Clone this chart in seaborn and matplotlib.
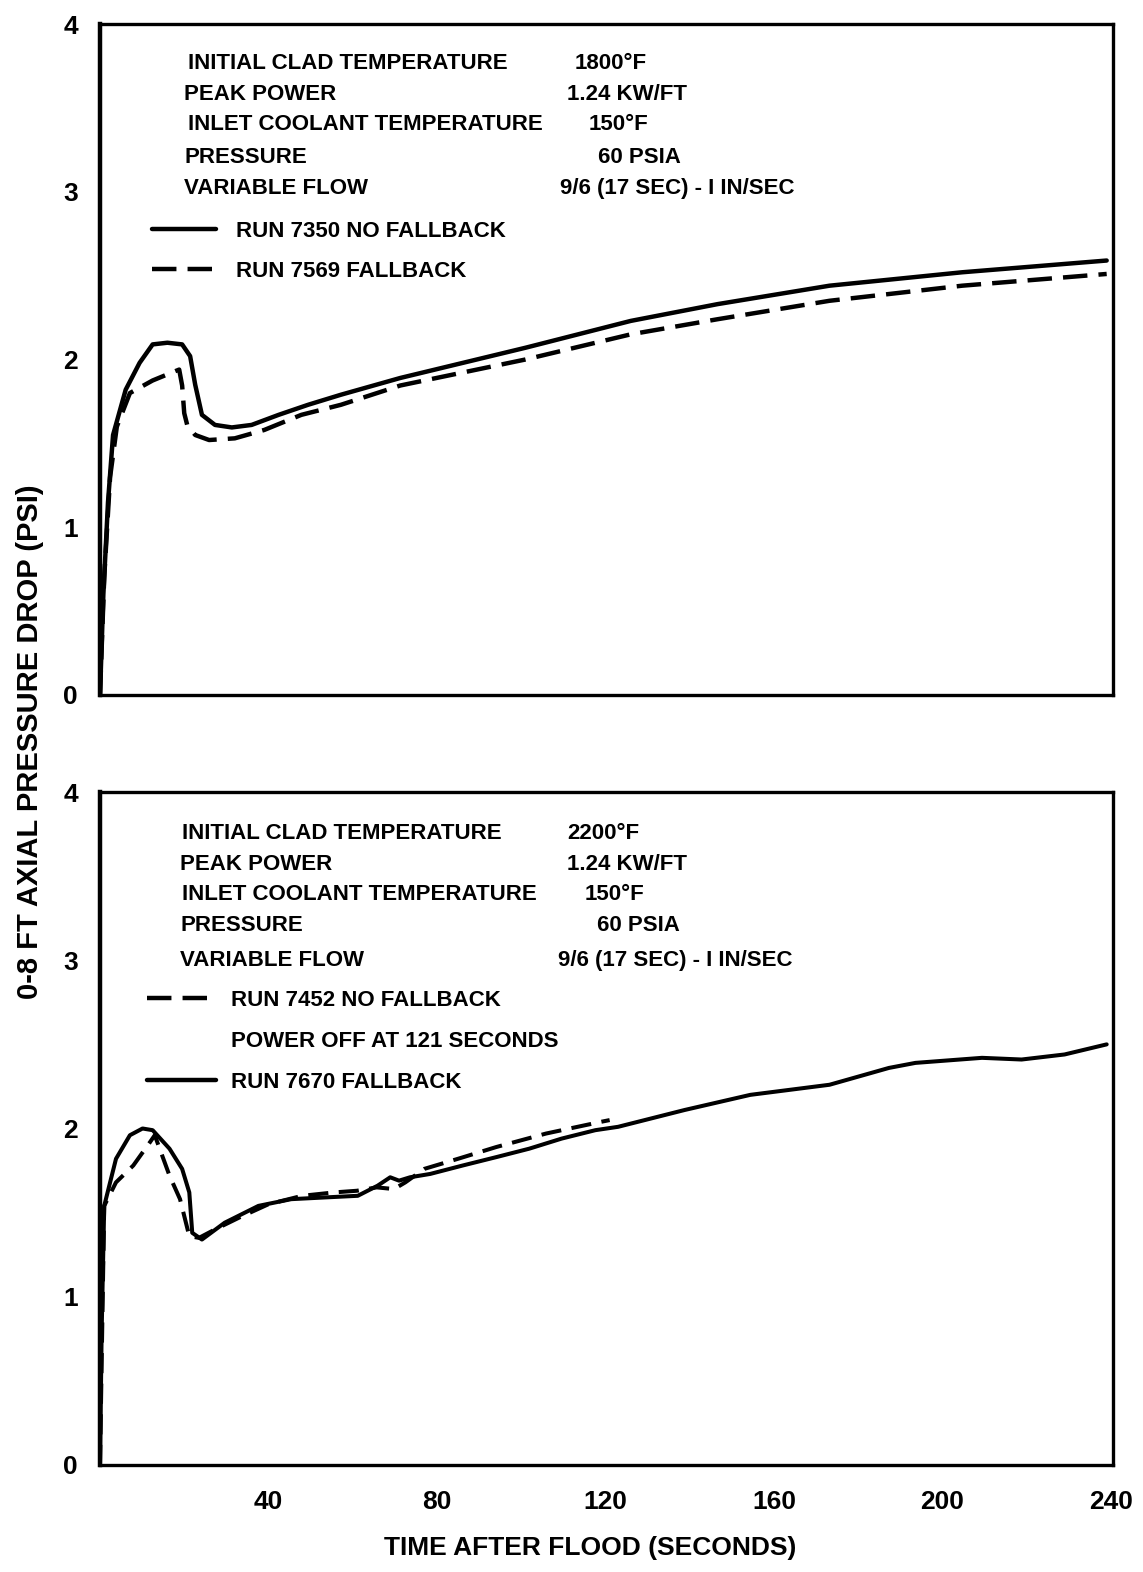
"""
Axial pressure drop (0-8 ft) after flood: two test sets, fallback vs no fallback.
"""
import matplotlib
matplotlib.use("Agg")
import matplotlib.pyplot as plt
from matplotlib.lines import Line2D
import seaborn as sns

# ---- data (time in s, pressure drop in psi) ----
top_solid_t = [0, 0.8, 1.9, 3.1, 6.1, 9.4, 12.5, 16, 19.5, 21.4, 22.6, 24.2, 27.3, 31.3, 36,
               42.4, 49.4, 57.2, 71.3, 101, 126, 146.6, 173.2, 204.7, 239]
top_solid_p = [0, 0.6, 1.15, 1.55, 1.82, 1.98, 2.09, 2.10, 2.09, 2.02, 1.85, 1.67, 1.61, 1.595, 1.61,
               1.67, 1.73, 1.79, 1.89, 2.07, 2.23, 2.33, 2.44, 2.52, 2.59]
top_dash_t = [0, 1.0, 2.4, 4.0, 7.1, 12.5, 18.8, 19.5, 20.0, 20.7, 22.6, 25.9, 32, 39, 47.8,
              57.2, 71.3, 101, 126, 146.6, 173.2, 204.7, 239]
top_dash_p = [0, 0.7, 1.3, 1.6, 1.80, 1.875, 1.94, 1.845, 1.68, 1.61, 1.55, 1.52, 1.53, 1.58, 1.67,
              1.73, 1.845, 2.0, 2.15, 2.24, 2.35, 2.44, 2.51]

bot_solid_t = [0, 0.4, 1.0, 3.8, 7.1, 10.1, 12.5, 16.5, 19.5, 21.2, 21.9, 24.2, 29.6, 37.6, 45.4,
               53.2, 61.2, 65.9, 68.9, 71, 73.6, 78.4, 86.1, 94.1, 101.9, 109.6, 117.6, 123,
               138.8, 154.4, 173.2, 187.3, 193.6, 209.4, 218.8, 229, 239]
bot_solid_p = [0, 0.8, 1.54, 1.82, 1.96, 2.0, 1.99, 1.88, 1.76, 1.62, 1.38, 1.34, 1.44, 1.54, 1.58,
               1.59, 1.60, 1.66, 1.71, 1.69, 1.71, 1.73, 1.78, 1.83, 1.88, 1.94, 1.99, 2.01,
               2.11, 2.20, 2.26, 2.36, 2.39, 2.42, 2.41, 2.44, 2.50]
bot_dash_t = [0, 1.0, 3.8, 7.9, 11.9, 13.0, 16.5, 19.0, 21.2, 23.5, 27.3, 33, 40, 48, 55.5, 61,
              65.7, 69.8, 72.5, 77, 85, 94.1, 105.9, 119, 121]
bot_dash_p = [0, 1.54, 1.68, 1.78, 1.92, 1.96, 1.72, 1.58, 1.36, 1.35, 1.40, 1.47, 1.55, 1.60, 1.62,
              1.63, 1.65, 1.64, 1.68, 1.76, 1.82, 1.89, 1.97, 2.04, 2.05]

cond_names = ["INITIAL CLAD TEMPERATURE", "PEAK POWER", "INLET COOLANT TEMPERATURE",
              "PRESSURE", "VARIABLE FLOW"]
top_cond_vals = ["1800°F", "1.24 KW/FT", "150°F", "60 PSIA", "9/6 (17 SEC) - I IN/SEC"]
bot_cond_vals = ["2200°F", "1.24 KW/FT", "150°F", "60 PSIA", "9/6 (17 SEC) - I IN/SEC"]

x_ticks = [40, 80, 120, 160, 200, 240]
y_ticks = [0, 1, 2, 3, 4]

sns.set_theme(style="white", rc={"text.color": "black", "axes.labelcolor": "black",
                                 "xtick.color": "black", "ytick.color": "black",
                                 "axes.edgecolor": "black"})
plt.rcParams["font.family"] = ["Liberation Sans", "DejaVu Sans"]
plt.rcParams["font.weight"] = "bold"

FS = 16
TFS = 19
LW = 3.2
DASH = (0, (5.5, 2.5))

fig = plt.figure(figsize=(11.43, 15.72), dpi=100)
W, H = 1143, 1572
ax_top = fig.add_axes([100 / W, 1 - 695 / H, 1013 / W, 671 / H])
ax_bot = fig.add_axes([100 / W, 1 - 1465 / H, 1013 / W, 673 / H])

sns.lineplot(x=top_solid_t, y=top_solid_p, ax=ax_top, color="black", lw=LW,
             estimator=None, sort=False)
sns.lineplot(x=top_dash_t, y=top_dash_p, ax=ax_top, color="black", lw=LW,
             linestyle=DASH, estimator=None, sort=False)
sns.lineplot(x=bot_solid_t, y=bot_solid_p, ax=ax_bot, color="black", lw=LW - 0.3,
             estimator=None, sort=False)
sns.lineplot(x=bot_dash_t, y=bot_dash_p, ax=ax_bot, color="black", lw=LW - 0.3,
             linestyle=(0, (5, 2.6)), estimator=None, sort=False)

for ax in (ax_top, ax_bot):
    ax.set_xlim(0, 240.5)
    ax.set_ylim(0, 4)
    ax.set_yticks(y_ticks)
    ax.set_yticklabels([str(v) for v in y_ticks], fontsize=TFS, fontweight="bold")
    ax.tick_params(axis="y", direction="in", length=29, width=1.5, pad=16, colors="black")
    for sp in ax.spines.values():
        sp.set_linewidth(2.4)
        sp.set_color("black")
    ax.spines["left"].set_linewidth(3.2)
    ax.set_xlabel("")
    ax.set_ylabel("")

ax_top.set_xticks([])
ax_bot.set_xticks(x_ticks)
ax_bot.set_xticklabels([str(v) for v in x_ticks], fontsize=TFS, fontweight="bold")
ax_bot.tick_params(axis="x", direction="in", length=29, width=1.5, pad=18, colors="black")

# test condition blocks
top_rows = [0.9415, 0.8955, 0.8495, 0.8015, 0.7555]
top_name_x = [0.087, 0.083, 0.087, 0.083, 0.083]
top_val_x = [0.469, 0.461, 0.482, 0.492, 0.454]
for name, val, y, nx, vx in zip(cond_names, top_cond_vals, top_rows, top_name_x, top_val_x):
    ax_top.text(nx, y, name, transform=ax_top.transAxes, fontsize=FS, va="center", ha="left")
    ax_top.text(vx, y, val, transform=ax_top.transAxes, fontsize=FS, va="center", ha="left")

bot_rows = [0.939, 0.893, 0.847, 0.801, 0.749]
bot_name_x = [0.081, 0.079, 0.081, 0.079, 0.079]
bot_val_x = [0.461, 0.461, 0.478, 0.491, 0.452]
for name, val, y, nx, vx in zip(cond_names, bot_cond_vals, bot_rows, bot_name_x, bot_val_x):
    ax_bot.text(nx, y, name, transform=ax_bot.transAxes, fontsize=FS, va="center", ha="left")
    ax_bot.text(vx, y, val, transform=ax_bot.transAxes, fontsize=FS, va="center", ha="left")

# legends
solid_h = Line2D([], [], color="black", lw=LW)
dash_h = Line2D([], [], color="black", lw=LW, linestyle=DASH)
blank_h = Line2D([], [], linestyle="none")

ax_top.legend([solid_h, dash_h], ["RUN 7350 NO FALLBACK", "RUN 7569 FALLBACK"],
              loc="upper left", bbox_to_anchor=(0.0513, 0.706), frameon=False,
              borderpad=0, borderaxespad=0, handlelength=2.9, handletextpad=0.9,
              labelspacing=0.84, prop={"size": FS, "weight": "bold"})
ax_bot.legend([dash_h, blank_h, solid_h],
              ["RUN 7452 NO FALLBACK", "POWER OFF AT 121 SECONDS", "RUN 7670 FALLBACK"],
              loc="upper left", bbox_to_anchor=(0.0464, 0.7065), frameon=False,
              borderpad=0, borderaxespad=0, handlelength=3.1, handletextpad=0.7,
              labelspacing=0.91, prop={"size": FS, "weight": "bold"})

fig.text(30 / W, 1 - 742 / H, "0-8 FT AXIAL PRESSURE DROP (PSI)", rotation=90,
         ha="center", va="center", fontsize=21, fontweight="bold")
fig.text(590 / W, 1 - 1548 / H, "TIME AFTER FLOOD (SECONDS)",
         ha="center", va="center", fontsize=19, fontweight="bold")

fig.savefig("out.png", dpi=100, facecolor="white")
